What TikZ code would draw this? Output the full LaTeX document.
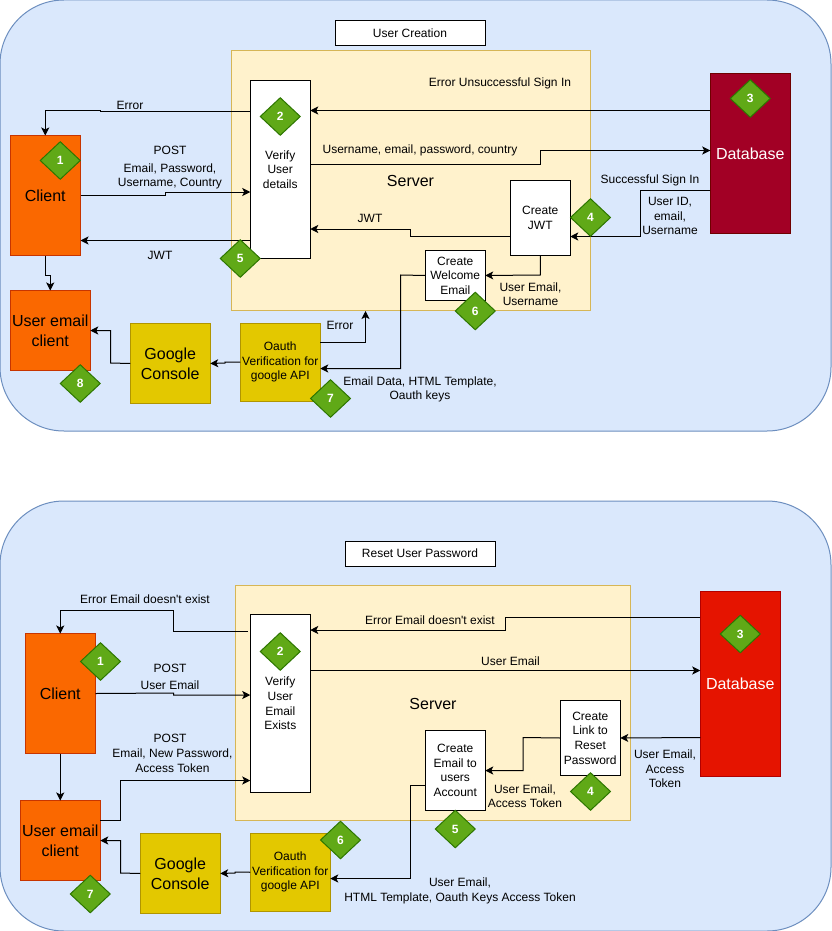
\documentclass[tikz,border=0pt]{standalone}
\usepackage{fontspec}
\setmainfont{Liberation Sans}
\newfontfamily\rawquote{Liberation Sans}
\usetikzlibrary{arrows.meta,shapes.geometric}
\definecolor{panelfill}{HTML}{DAE8FC}
\definecolor{panelline}{HTML}{6C8EBF}
\definecolor{serverfill}{HTML}{FFF2CC}
\definecolor{serverline}{HTML}{D6B656}
\definecolor{orangefill}{HTML}{FA6800}
\definecolor{orangeline}{HTML}{C73500}
\definecolor{yellowfill}{HTML}{E3C800}
\definecolor{yellowline}{HTML}{B09500}
\definecolor{wine}{HTML}{A20025}
\definecolor{wineline}{HTML}{6F0000}
\definecolor{redfill}{HTML}{E51400}
\definecolor{redline}{HTML}{B20000}
\definecolor{greenfill}{HTML}{60A917}
\definecolor{greenline}{HTML}{2D7600}
\tikzset{
  x=1pt,y=-1pt,
  every node/.style={inner sep=0pt,outer sep=0pt,align=center},
  small/.style={font=\fontsize{12}{14.6}\selectfont},
  big/.style={font=\fontsize{16}{20}\selectfont},
  panel/.style={draw=panelline,fill=panelfill,line width=1pt,rounded corners=64pt},
  server/.style={draw=serverline,fill=serverfill,line width=1pt},
  servertext/.style={font=\fontsize{16}{20}\selectfont},
  titlebox/.style={draw=black,fill=white,line width=1pt,small,minimum width=150pt,minimum height=25pt},
  whitebox/.style={draw=black,fill=white,line width=1pt,small,yshift=-0.5pt},
  orangebox/.style={draw=orangeline,fill=orangefill,line width=1pt,big,yshift=-0.5pt},
  yellowbig/.style={draw=yellowline,fill=yellowfill,line width=1pt,big,minimum width=80pt,minimum height=80pt,yshift=-0.5pt},
  yellowsmall/.style={draw=yellowline,fill=yellowfill,line width=1pt,small,minimum width=80pt,minimum height=77.5pt,yshift=-0.5pt},
  dbbox/.style={line width=1pt,big,text=white,minimum width=80pt,yshift=-0.5pt},
  badge/.style={diamond,aspect=1.07,draw=greenline,fill=greenfill,line width=1pt,text=white,
    font=\fontsize{12}{14}\bfseries\selectfont,minimum width=40pt,minimum height=37.5pt},
  lbl/.style={small,yshift=-0.8pt},
  conn/.style={draw=black,line width=1pt,-{Stealth[length=8pt,width=8pt,inset=2pt]}},
}
\begin{document}
\begin{tikzpicture}
\useasboundingbox (0,0) rectangle (831,931);
\fill[white] (0,0) rectangle (831,931);
% ================= top panel
\path[panel] (0,0) rectangle (831,431);
\node[titlebox] (t1) at (410,33.5) {User Creation};
\path[server] (231,50.5) rectangle (590.5,310.5);
\node[servertext] (srv1) at (410.5,180.5) {Server};
\node[whitebox,minimum width=60pt,minimum height=178pt] (verify1) at (280.25,169) {Verify\\User\\details};
\node[orangebox,minimum width=70.5pt,minimum height=120pt] (client1) at (45.25,195) {Client};
\node[orangebox,minimum width=80pt,minimum height=80pt] (mail1) at (50.25,330) {User email\\client};
\node[yellowbig] (console1) at (170.25,363) {Google\\Console};
\node[yellowsmall] (oauth1) at (280.25,361.75) {Oauth\\Verification for\\google API};
\node[dbbox,draw=wineline,fill=wine,minimum height=160pt] (db1) at (750.25,153) {Database};
\node[whitebox,minimum width=60pt,minimum height=75pt] (jwt1) at (540.25,217.5) {Create\\JWT};
\node[whitebox,minimum width=60pt,minimum height=50pt] (welcome1) at (455.25,275) {Create\\Welcome\\Email};
% connectors
\draw[conn] (verify1.west |- 0,112) -- (100,112) -- (100,110.5) -- (45.25,110.5) -- (client1.north);
\draw[conn] (client1.east |- 0,195.5) -- (165.5,195.5) -- (165.5,192) -- (verify1.west |- 0,192);
\draw[conn] (verify1.west |- 0,240.5) -- (client1.east |- 0,240.5);
\draw[conn] (client1.south) -- (45.25,275) -- (50.25,275) -- (mail1.north);
\draw[conn] (console1.west) -- (110.5,363) -- (110.5,330.5) -- (mail1.east |- 0,330.5);
\draw[conn] (oauth1.west) -- (225,362) -- (225,363) -- (console1.east);
\draw[conn] (oauth1.east |- 0,342.5) -- (365.5,342.5) -- (365.5,311);
\draw[conn] (welcome1.west) -- (400.5,275) -- (400.5,368.5) -- (oauth1.east |- 0,368.5);
\draw[conn] (jwt1.west |- 0,236.5) -- (410.5,236.5) -- (410.5,229) -- (verify1.east |- 0,229);
\draw[conn] (jwt1.south) -- (540.25,275) -- (welcome1.east);
\draw[conn] (db1.west |- 0,110.5) -- (verify1.east |- 0,110.5);
\draw[conn] (verify1.east |- 0,164.5) -- (540.5,164.5) -- (540.5,150.5) -- (db1.west |- 0,150.5);
\draw[conn] (db1.west |- 0,190.5) -- (640.5,190.5) -- (640.5,236.5) -- (jwt1.east |- 0,236.5);
% labels
\node[lbl] (a1) at (130,104.5) {Error};
\node[lbl] (a2) at (170,149.5) {POST};
\node[lbl] (a3) at (170,175.5) {Email, Password,\\Username, Country};
\node[lbl] (a4) at (160,255) {JWT};
\node[lbl] (a5) at (500,83) {Error Unsuccessful Sign In};
\node[lbl] (a6) at (420,150) {Username, email, password, country};
\node[lbl] (a7) at (370,218) {JWT};
\node[lbl] (a8) at (650,180) {Successful Sign In};
\node[lbl] (a9) at (670,215.5) {User ID,\\email,\\Username};
\node[lbl] (a10) at (530.5,293.5) {User Email,\\Username};
\node[lbl] (a11) at (340,325) {Error};
\node[lbl] (a12) at (420,388.5) {Email Data, HTML Template,\\Oauth keys};
% badges
\node[badge] (b11) at (60.25,160.5) {1};
\node[badge] (b12) at (280.25,116.5) {2};
\node[badge] (b13) at (750.25,98.5) {3};
\node[badge] (b14) at (590.5,217.5) {4};
\node[badge] (b15) at (240.25,258.5) {5};
\node[badge] (b16) at (475.25,311) {6};
\node[badge] (b17) at (330.5,398.5) {7};
\node[badge] (b18) at (80.25,383.5) {8};
% ================= bottom panel
\path[panel] (0,501) rectangle (831,931);
\node[titlebox] (t2) at (420,553.5) {Reset User Password};
\path[server] (235.5,585.5) rectangle (630.5,820.5);
\node[servertext] (srv2) at (433,703.5) {Server};
\node[whitebox,minimum width=60pt,minimum height=177.5pt] (verify2) at (280.25,703) {Verify\\User\\Email\\Exists};
\node[orangebox,minimum width=70.5pt,minimum height=120pt] (client2) at (60.25,693) {Client};
\node[orangebox,minimum width=80pt,minimum height=80pt] (mail2) at (60.25,840) {User email\\client};
\node[yellowbig] (console2) at (180.25,873) {Google\\Console};
\node[yellowsmall] (oauth2) at (290.25,871.75) {Oauth\\Verification for\\google API};
\node[dbbox,draw=redline,fill=redfill,minimum height=185pt] (db2) at (740.25,683) {Database};
\node[whitebox,minimum width=60pt,minimum height=75pt] (link2) at (590.25,737.5) {Create\\Link to\\Reset\\Password};
\node[whitebox,minimum width=60pt,minimum height=80pt] (email2) at (455.25,770) {Create\\Email to\\users\\Account};
% connectors
\draw[conn] (248,631.5) -- (173.5,631.5) -- (173.5,610.5) -- (60.25,610.5) -- (client2.north);
\draw[conn] (client2.east) -- (173.5,693) -- (173.5,695) -- (verify2.west |- 0,695);
\draw[conn] (mail2.east |- 0,820.5) -- (120.5,820.5) -- (120.5,780.5) -- (verify2.west |- 0,780.5);
\draw[conn] (client2.south) -- (mail2.north);
\draw[conn] (console2.west) -- (120.5,873) -- (120.5,840.5) -- (mail2.east |- 0,840.5);
\draw[conn] (oauth2.west) -- (235,872) -- (235,873) -- (console2.east);
\draw[conn] (email2.west |- 0,785.5) -- (410.5,785.5) -- (410.5,878.5) -- (oauth2.east |- 0,878.5);
\draw[conn] (link2.west) -- (523,737.5) -- (523,770.5) -- (email2.east |- 0,770.5);
\draw[conn] (db2.west |- 0,737.5) -- (link2.east);
\draw[conn] (db2.west |- 0,617.5) -- (505.5,617.5) -- (505.5,630) -- (verify2.east |- 0,630);
\draw[conn] (verify2.east |- 0,670.5) -- (db2.west |- 0,670.5);
% labels
\node[lbl] (c1) at (145,598.5) {Error Email doesn{\rawquote'}t exist};
\node[lbl] (c2) at (170,667.5) {POST};
\node[lbl] (c3) at (170,684.5) {User Email};
\node[lbl] (c4) at (170,737.5) {POST};
\node[lbl] (c5) at (172.5,760) {Email, New Password,\\Access Token};
\node[lbl] (c6) at (430,619.5) {Error Email doesn{\rawquote'}t exist};
\node[lbl] (c7) at (510.5,660.5) {User Email};
\node[lbl] (c8) at (525,795.5) {User Email,\\Access Token};
\node[lbl] (c9) at (665,768) {User Email,\\Access\\Token};
\node[lbl] (c10) at (460,890) {User Email,\\HTML Template, Oauth Keys Access Token};
% badges
\node[badge] (b21) at (100.5,661.5) {1};
\node[badge] (b22) at (280.25,651.5) {2};
\node[badge] (b23) at (740.25,634) {3};
\node[badge] (b24) at (590.5,791.5) {4};
\node[badge] (b25) at (455.25,829) {5};
\node[badge] (b26) at (340.5,840) {6};
\node[badge] (b27) at (90.25,894) {7};
\end{tikzpicture}
\end{document}
